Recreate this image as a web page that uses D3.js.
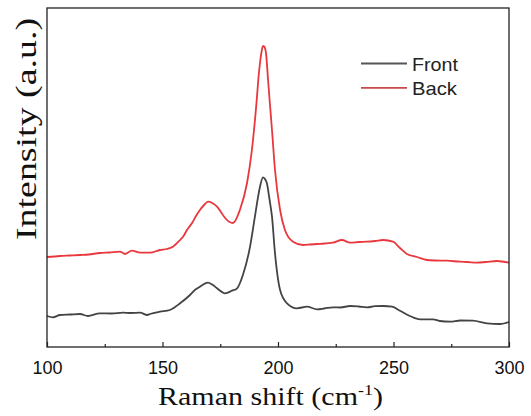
<!DOCTYPE html>
<html><head><meta charset="utf-8">
<script src="https://cdn.jsdelivr.net/npm/d3@7"></script>
<style>body{margin:0;background:#fff}</style>
</head><body>
<svg id="c" width="531" height="416"></svg>
<script>
const shiftFront = [100,102.6,105.6,110,114.3,117.7,122.9,128,132.9,136,140.3,143.4,144.6,148.9,153.2,157.6,161.9,164,166.2,168,169.7,171.5,173.6,177.1,180.1,182.3,184.8,187.9,190,191,192.2,193.5,194.2,195.2,196.3,197.4,198.7,200.9,203.9,208.2,212.6,216.9,220,223.8,227,231.2,235,238.5,242,245.5,249.4,252.8,257.1,261.5,267.1,270,274.5,279,284.4,290.5,296.1,300];
const intFront  = [31,29.7,32,32.5,33,31,33.7,33.5,34.3,34,34.3,32,33,35.3,37,43.7,52,57,60.3,63,64.3,62.5,58.7,53.7,56.3,58.7,72,100.3,130.3,145,160.3,169.7,168.5,163.7,148,130.3,93.7,57,43.7,38.7,40.3,37.7,38.5,39.7,39.5,41,40.5,39.7,40.8,41,40.3,36.3,31,27.7,27.7,26,25.3,26.5,26.3,23.7,23,25];
const shiftBack = [100,105.6,110,114.3,118,122.9,127,131.6,133.8,136.8,140.3,144.6,148.9,151.9,154.5,157.6,158.9,160.6,162.8,164.5,166.2,168,169.7,171.5,173.6,175.3,177.1,180.5,183.5,186.6,188.7,190.9,191.5,192.2,192.8,193.5,194,194.8,195.7,196.5,197.4,198.7,200.9,203,206.5,210.8,214,216.9,220,223.8,227.7,231.2,235,238.5,242,245.5,249.8,252.8,255.8,260.2,264.5,268,273.2,278.8,282,286.1,290,294.8,300];
const intBack   = [90,91,91.5,92,92.5,94,94.5,95.3,93,96.3,94.3,94.3,97,98,100.3,107,110.3,117,124,131,137,142,145.3,144,140.3,135,129,124,137,164,197,250.3,268,284,294,301,300.5,294,267,243,217,177,137,117,105.3,102,102.5,103,103.5,104.3,107,104.3,105,105.3,106,107,105.3,99,93,90,87,86.5,86.3,85.3,85,84.3,85,86,84.3];
const xTicks = [100,150,200,250,300];
const xMinor = [125,175,225,275];
const seriesNames = ["Front","Back"];
const seriesColors = ["#444444","#e8383d"];

const svg = d3.select("#c");
const L=47, R=509, T=8, B=347;
const x = d3.scaleLinear().domain([100,300]).range([L,R]);
const y = d3.scaleLinear().domain([0,339]).range([B,T]);

const line = d3.line().x(d=>x(d[0])).y(d=>y(d[1])).curve(d3.curveMonotoneX);
const data = [d3.zip(shiftFront,intFront), d3.zip(shiftBack,intBack)];
data.forEach((d,i)=>{
  svg.append("path").datum(d).attr("d",line).attr("fill","none")
    .attr("stroke",seriesColors[i]).attr("stroke-width",1.8).attr("stroke-linejoin","round");
});

// frame
svg.append("rect").attr("x",L).attr("y",T).attr("width",R-L).attr("height",B-T)
  .attr("fill","none").attr("stroke","#222").attr("stroke-width",1.3);

// ticks (inside)
const ax = d3.axisBottom(x).tickValues(xTicks).tickSize(-5).tickSizeOuter(0).tickPadding(10);
const g = svg.append("g").attr("transform",`translate(0,${B})`).call(ax);
g.select(".domain").remove();
g.selectAll(".tick line").attr("stroke","#222").attr("stroke-width",1.2);
g.selectAll(".tick text").attr("font-family","Liberation Sans, Arial, sans-serif").attr("font-size",18).attr("fill","#111").attr("dy","0.95em");
const gm = svg.append("g").attr("transform",`translate(0,${B})`)
  .call(d3.axisBottom(x).tickValues(xMinor).tickSize(-3).tickFormat(""));
gm.select(".domain").remove();
gm.selectAll(".tick line").attr("stroke","#222").attr("stroke-width",1.2);

// x label
const xl = svg.append("text").attr("x",158).attr("y",405)
  .attr("font-family","Liberation Serif, Times New Roman, serif").attr("font-size",25).attr("fill","#111")
  .attr("textLength",225).attr("lengthAdjust","spacingAndGlyphs");
xl.append("tspan").text("Raman shift (cm");
xl.append("tspan").text("-1").attr("font-size",15).attr("dy",-10);
xl.append("tspan").text(")").attr("dy",10);

// y label
svg.append("text").attr("transform","translate(36,240) rotate(-90)")
  .attr("font-family","Liberation Serif, Times New Roman, serif").attr("font-size",30).attr("fill","#111")
  .attr("textLength",222).attr("lengthAdjust","spacingAndGlyphs")
  .text("Intensity (a.u.)");

// legend
seriesNames.forEach((n,i)=>{
  const ly = 63.5 + i*24.3;
  svg.append("line").attr("x1",361).attr("x2",407).attr("y1",ly).attr("y2",ly)
    .attr("stroke",i===0?"#555":"#c84a4a").attr("stroke-width",1.8);
  svg.append("text").attr("x",412).attr("y",ly+7).text(n)
    .attr("font-family","Liberation Sans, Arial, sans-serif").attr("font-size",19).attr("fill","#222")
    .attr("textLength",i===0?46:45).attr("lengthAdjust","spacingAndGlyphs");
});
</script>
</body></html>
